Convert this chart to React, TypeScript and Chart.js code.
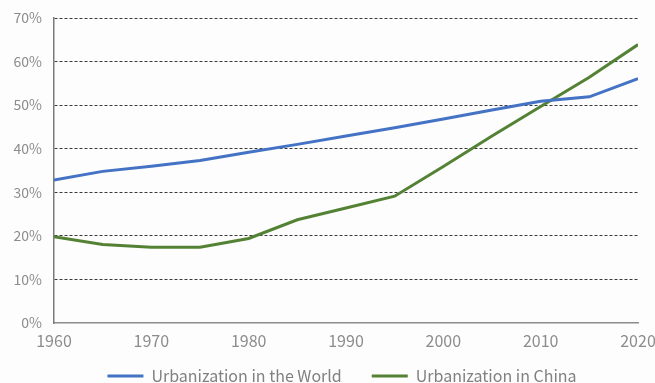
import React, { useEffect, useRef } from "react";
import { Chart, registerables } from "chart.js";

Chart.register(...registerables);

const years = [1960, 1965, 1970, 1975, 1980, 1985, 1990, 1995, 2000, 2005, 2010, 2015, 2020];
const worldUrbanization = [32.8, 34.8, 36.0, 37.3, 39.2, 41.0, 42.9, 44.8, 46.8, 48.9, 50.9, 51.9, 56.1];
const chinaUrbanization = [19.8, 18.0, 17.4, 17.4, 19.4, 23.7, 26.4, 29.1, 35.9, 42.9, 49.7, 56.4, 63.9];
const seriesNames = ["Urbanization in the World", "Urbanization in China"];
const seriesColors = ["#4472C4", "#548235"];

const FONT = "'Noto Sans CJK SC', 'Noto Sans', sans-serif";

// The legend reserves a short band in the layout, then is moved so its
// wide label padding does not push the plot area upward, and it is centred
// under the plot area rather than the whole canvas.
const legendLift = {
  id: "legendLift",
  afterLayout(chart: any) {
    const lg = chart.legend;
    if (!lg) return;
    const fullHeight = 56;
    lg.top = chart.height - 45;
    lg.bottom = lg.top + fullHeight;
    lg.height = fullHeight;
    const area = chart.chartArea;
    const shift = (area.left + area.right) / 2 - (lg.left + lg.right) / 2 - 4;
    lg.left += shift;
    lg.right += shift;
  },
};

export default function App() {
  const canvasRef = useRef<HTMLCanvasElement | null>(null);

  useEffect(() => {
    const canvas = canvasRef.current;
    if (!canvas) return;

    const toPoints = (vals: number[]) => years.map((yr, i) => ({ x: yr, y: vals[i] }));

    const chart = new Chart(canvas, {
      type: "line",
      data: {
        datasets: [worldUrbanization, chinaUrbanization].map((vals, i) => ({
          label: seriesNames[i],
          data: toPoints(vals),
          borderColor: seriesColors[i],
          backgroundColor: seriesColors[i],
          borderWidth: 3,
          pointRadius: 0,
          tension: 0,
          fill: false,
        })),
      },
      plugins: [legendLift],
      options: {
        animation: false,
        responsive: false,
        maintainAspectRatio: false,
        layout: { padding: { top: 18, right: 17, bottom: 0, left: 0 } },
        plugins: {
          tooltip: { enabled: false },
          legend: {
            position: "bottom",
            maxHeight: 30,
            labels: {
              boxWidth: 36,
              boxHeight: 0,
              padding: 30,
              color: "#808080",
              font: { family: FONT, size: 16 },
            },
          },
        },
        scales: {
          x: {
            type: "linear",
            min: 1960,
            max: 2020,
            afterFit: (scale: any) => {
              scale.height = 30;
              scale.paddingLeft = 0;
              scale.paddingRight = 0;
            },
            ticks: {
              stepSize: 10,
              padding: 8,
              color: "#8c8c8c",
              font: { family: FONT, size: 16 },
              maxRotation: 0,
              callback: (v: any) => String(v),
            },
            grid: { display: false, drawTicks: false },
            border: { display: true, color: "#8c8c8c", width: 1.5 },
          },
          y: {
            min: 0,
            max: 70,
            afterFit: (scale: any) => {
              scale.width = 54;
              scale.paddingTop = 0;
              scale.paddingBottom = 0;
            },
            ticks: {
              stepSize: 10,
              padding: 12,
              color: "#8c8c8c",
              font: { family: FONT, size: 14 },
              callback: (v: any) => `${v}%`,
            },
            grid: {
              drawTicks: false,
              lineWidth: 1,
              color: (ctx: any) => (ctx.tick && ctx.tick.value === 0 ? "rgba(0,0,0,0)" : "#3a3a3a"),
            },
            border: { display: true, color: "#7a7a7a", width: 1.5, dash: [3, 2] },
          },
        },
      },
    });

    return () => chart.destroy();
  }, []);

  return (
    <div style={{ position: "fixed", left: 0, top: 0, width: 655, height: 383, background: "#fdfdfd" }}>
      <canvas ref={canvasRef} width={655} height={383} style={{ display: "block" }} />
    </div>
  );
}
